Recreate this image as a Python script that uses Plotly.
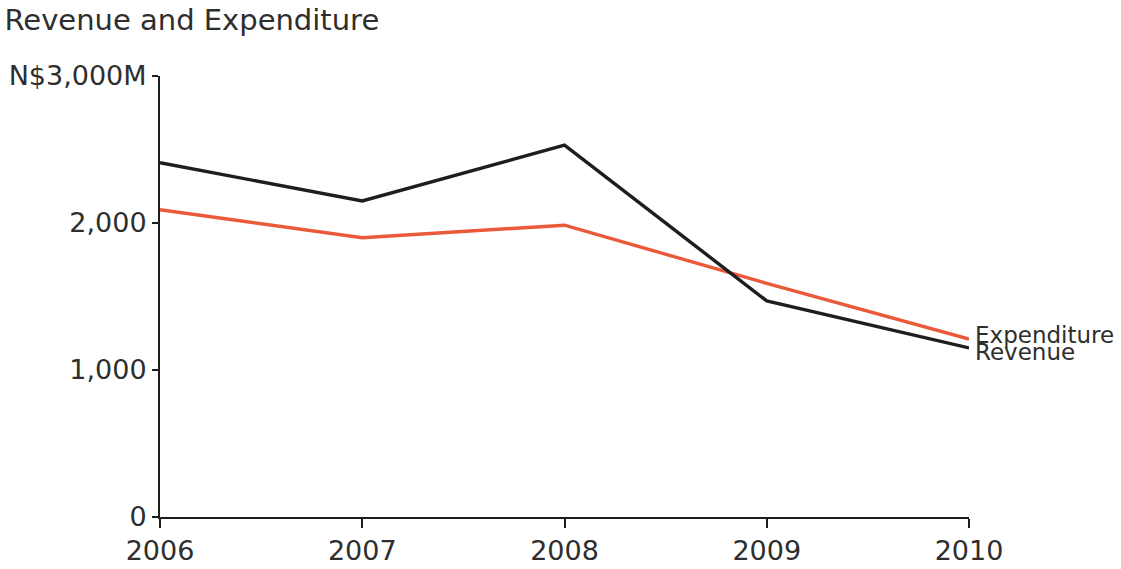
import plotly.graph_objects as go

years = [2006, 2007, 2008, 2009, 2010]
revenue = [2410, 2150, 2530, 1470, 1150]
expenditure = [2090, 1900, 1985, 1590, 1210]

y_ticks = [0, 1000, 2000, 3000]
y_tick_labels = ["0", "1,000", "2,000", "N$3,000M"]

text_color = "#2e2e2e"
rev_color = "#1c1f1e"
exp_color = "#ea5a3a"
font_family = "DejaVu Sans, Verdana, sans-serif"

fig = go.Figure()
fig.add_trace(go.Scatter(x=years, y=expenditure, mode="lines", name="Expenditure",
                         line=dict(color=exp_color, width=3.4)))
fig.add_trace(go.Scatter(x=years, y=revenue, mode="lines", name="Revenue",
                         line=dict(color=rev_color, width=3.4)))

# direct labels at the end of each line
fig.add_annotation(x=years[-1], y=expenditure[-1], text="Expenditure", showarrow=False,
                   xanchor="left", yanchor="middle", xshift=4, yshift=4,
                   font=dict(size=23, color=text_color, family=font_family))
fig.add_annotation(x=years[-1], y=revenue[-1], text="Revenue", showarrow=False,
                   xanchor="left", yanchor="middle", xshift=4, yshift=-4,
                   font=dict(size=23, color=text_color, family=font_family))

fig.update_layout(
    width=1121, height=569,
    margin=dict(l=160, r=152, t=76, b=52),
    paper_bgcolor="white", plot_bgcolor="white",
    showlegend=False,
    title=dict(text="Revenue and Expenditure", x=0.004, xanchor="left", y=0.965, yanchor="middle",
               font=dict(size=29, color=text_color, family=font_family)),
    xaxis=dict(range=[2006, 2010], tickvals=years, ticktext=[str(y) for y in years],
               automargin=False,
               showgrid=False, zeroline=False, showline=True, linecolor=rev_color, linewidth=2,
               ticks="outside", ticklen=9, tickwidth=1.5, tickcolor=rev_color,
               tickfont=dict(size=27, color=text_color, family=font_family)),
    yaxis=dict(range=[0, 3000], tickvals=y_ticks, ticktext=y_tick_labels,
               automargin=False,
               showgrid=False, zeroline=False, showline=True, linecolor=rev_color, linewidth=2,
               ticks="outside", ticklen=6, tickwidth=1.5, tickcolor=rev_color,
               tickfont=dict(size=27, color=text_color, family=font_family)),
)

fig.write_html("out.html")
